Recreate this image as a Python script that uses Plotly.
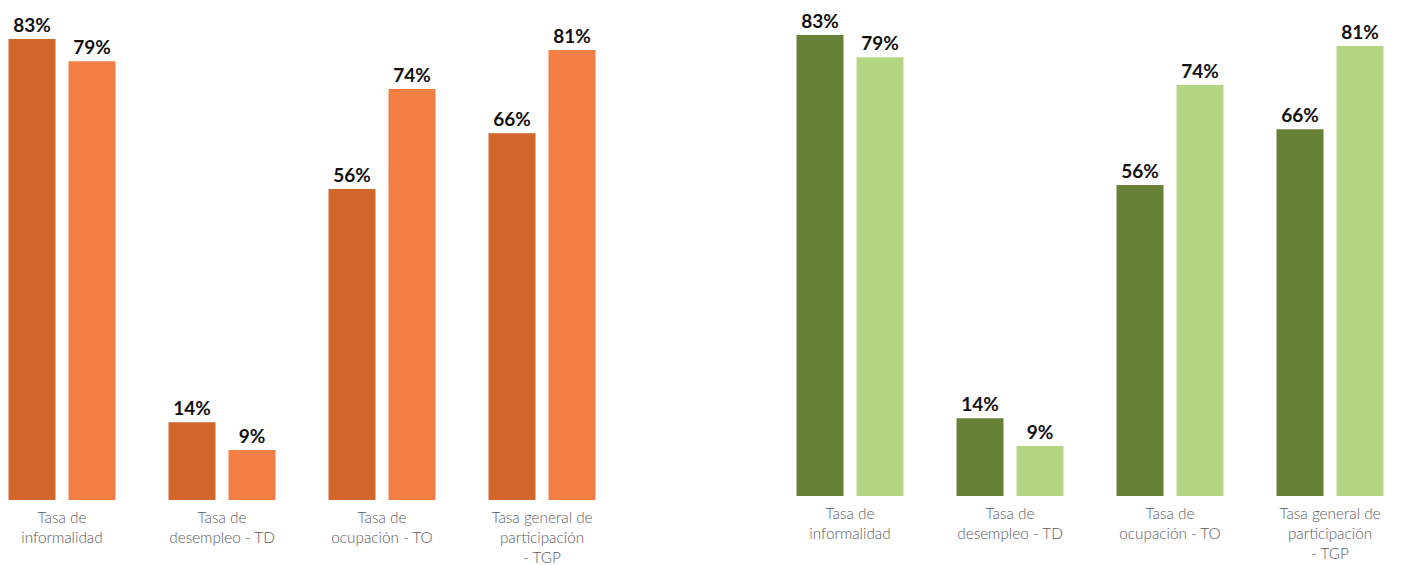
import plotly.graph_objects as go

categories = ["Tasa de<br>informalidad", "Tasa de<br>desempleo - TD", "Tasa de<br>ocupación - TO", "Tasa general de<br>participación<br>- TGP"]
left_a = [83, 14, 56, 66]
left_b = [79, 9, 74, 81]
right_a = [83, 14, 56, 66]
right_b = [79, 9, 74, 81]

W, H = 1402, 565
orange_dark, orange_light = "#D2652A", "#F47F45"
green_dark, green_light = "#678236", "#B3D682"

fig = go.Figure()
txtfont = dict(family="Lato", size=19, color="#111111", weight="bold")

def add(vals, color, xa, ya):
    fig.add_trace(go.Bar(x=categories, y=vals, marker=dict(color=color, line=dict(width=0)),
                         text=[f"{v}%" for v in vals], textposition="outside",
                         textfont=txtfont, cliponaxis=False, xaxis=xa, yaxis=ya,
                         showlegend=False, hoverinfo="skip"))

add(left_a, orange_dark, "x", "y")
add(left_b, orange_light, "x", "y")
add(right_a, green_dark, "x2", "y2")
add(right_b, green_light, "x2", "y2")

spacing = 160.0
l0, l1 = 0, 631
la = -(62 - l0) / spacing
lb = la + (l1 - l0) / spacing
r0, r1 = 760, 1402
ra = -(850 - r0) / spacing
rb = ra + (r1 - r0) / spacing
scale = 5.555

tickfont = dict(family="Lato", size=15.3, color="#5a5a5a", weight=300)
common_x = dict(type="category", showgrid=False, zeroline=False, showline=False,
                ticks="", tickfont=tickfont, fixedrange=True, automargin=False,
                ticklabelstandoff=7)
common_y = dict(showgrid=False, zeroline=False, showline=False, showticklabels=False,
                fixedrange=True, automargin=False)

fig.update_layout(
    width=W, height=H, margin=dict(l=0, r=0, t=0, b=0, autoexpand=False),
    paper_bgcolor="white", plot_bgcolor="white",
    barmode="group", bargap=0.25, bargroupgap=0.2167,
    xaxis=dict(domain=[l0 / W, l1 / W], range=[la, lb], anchor="y", **common_x),
    xaxis2=dict(domain=[r0 / W, r1 / W], range=[ra, rb], anchor="y2", **common_x),
    yaxis=dict(domain=[(H - 500) / H, 1], range=[0, 500 / scale], anchor="x", **common_y),
    yaxis2=dict(domain=[(H - 496) / H, 1], range=[0, 496 / scale], anchor="x2", **common_y),
)

fig.write_html("out.html", config={"displayModeBar": False},
               post_script="document.body.style.margin='0';document.body.style.overflow='hidden';")
